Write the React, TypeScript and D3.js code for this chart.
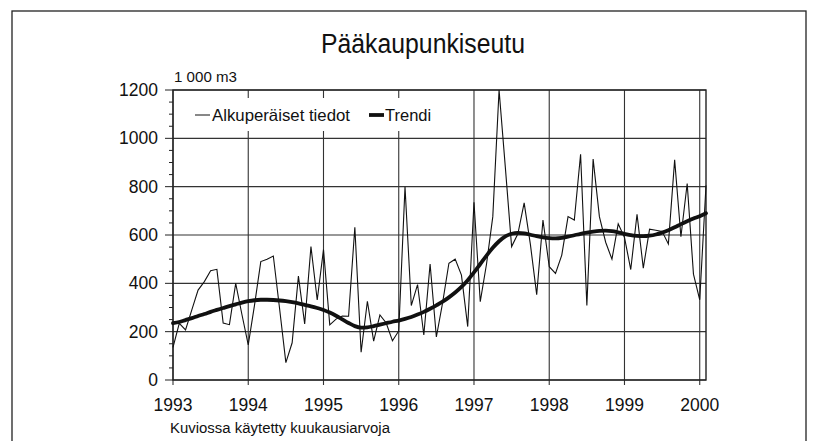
import React from 'react';
import * as d3 from 'd3';

// monthly values, Jan 1993 .. Feb 2000 (1 000 m3)
const raw: number[] = [
  135, 234, 207, 290, 372, 407, 452, 458, 236, 229, 400, 270,
  145, 310, 490, 500, 513, 295, 72, 154, 430, 232, 552, 331,
  540, 228, 252, 265, 264, 632, 115, 326, 161, 269, 236, 162,
  203, 800, 308, 395, 186, 480, 178, 320, 483, 500, 434, 221,
  735, 324, 480, 676, 1200, 880, 552, 605, 733, 560, 353, 662,
  469, 441, 517, 676, 662, 934, 308, 914, 676, 570, 500, 646,
  590, 457, 686, 463, 624, 620, 615, 563, 911, 593, 813, 438,
  332, 805,
];

const trend: number[] = [
  235, 240, 248, 256, 265, 273, 282, 290, 298, 306, 313, 320,
  326, 330, 332, 332, 331, 329, 326, 322, 317, 311, 305, 298,
  290, 279, 266, 251, 236, 223, 217, 218, 223, 229, 235, 241,
  246, 253, 261, 271, 282, 295, 309, 324, 342, 362, 385, 413,
  445, 480, 515, 547, 574, 594, 605, 609, 607, 601, 595, 590,
  587, 586, 588, 593, 599, 605, 610, 614, 617, 618, 616, 611,
  605, 599, 596, 595, 597, 602, 610, 620, 632, 645, 657, 668,
  678, 690,
];

const yearTicks = [1993, 1994, 1995, 1996, 1997, 1998, 1999, 2000];
const valueTicks = [0, 200, 400, 600, 800, 1000, 1200];
const minorTicks = d3.range(0, 1201, 50);

const title = 'Pääkaupunkiseutu';
const unitLabel = '1 000 m3';
const legendRaw = 'Alkuperäiset tiedot';
const legendTrend = 'Trendi';
const footnote = 'Kuviossa käytetty kuukausiarvoja';

const W = 815;
const H = 441;
const font = '"Liberation Sans", Arial, Helvetica, sans-serif';

export default function App() {
  const x = d3.scaleLinear().domain([1993, 2000 + 1 / 12]).range([173, 706]);
  const y = d3.scaleLinear().domain([0, 1200]).range([380, 90]);
  const t = (i: number) => 1993 + i / 12;

  const line = d3
    .line<number>()
    .x((_, i) => x(t(i)))
    .y(d => y(d));

  const trendLine = d3
    .line<number>()
    .x((_, i) => x(t(i)))
    .y(d => y(d))
    .curve(d3.curveMonotoneX);

  const [x0, x1] = x.range();
  const [yb, yt] = y.range();

  return (
    <svg
      width={W}
      height={H}
      style={{ position: 'absolute', left: 0, top: 0, background: '#fff' }}
      fontFamily={font}
    >
      <rect x={0} y={0} width={W} height={H} fill="#fff" />
      {/* outer frame */}
      <rect x={12} y={11} width={794} height={440} fill="none" stroke="#222" strokeWidth={1.3} />

      <text x={423} y={53} fontSize={27} textAnchor="middle" textLength={204} lengthAdjust="spacingAndGlyphs" fill="#111">
        {title}
      </text>
      <text x={174} y={82} fontSize={15} textLength={63} lengthAdjust="spacingAndGlyphs" fill="#111">{unitLabel}</text>

      {/* grid */}
      <g stroke="#333" strokeWidth={1.1}>
        {valueTicks.map(v => (
          <line key={'h' + v} x1={x0} x2={x1} y1={y(v)} y2={y(v)} />
        ))}
        {yearTicks.map(yr => (
          <line key={'v' + yr} x1={x(yr)} x2={x(yr)} y1={yt} y2={yb + 5} />
        ))}
      </g>

      {/* y ticks */}
      <g stroke="#222" strokeWidth={1}>
        {minorTicks.map(v => (
          <line key={'m' + v} x1={v % 200 === 0 ? x0 - 8 : x0 - 4} x2={x0} y1={y(v)} y2={y(v)} />
        ))}
      </g>

      {/* legend box */}
      <rect x={178} y={98} width={262} height={33} fill="#fff" />
      <line x1={195} x2={210} y1={115} y2={115} stroke="#111" strokeWidth={1} />
      <text x={212} y={121} fontSize={16.5} textLength={138} lengthAdjust="spacingAndGlyphs" fill="#111">{legendRaw}</text>
      <line x1={369} x2={384} y1={115} y2={115} stroke="#111" strokeWidth={3.8} />
      <text x={385} y={121} fontSize={16.5} fill="#111">{legendTrend}</text>

      {/* plot frame */}
      <rect x={x0} y={yt} width={x1 - x0} height={yb - yt} fill="none" stroke="#222" strokeWidth={1.4} />

      <path d={line(raw) ?? ''} fill="none" stroke="#111" strokeWidth={1.1} strokeLinejoin="miter" />
      <path d={trendLine(trend) ?? ''} fill="none" stroke="#111" strokeWidth={3.8} strokeLinecap="round" />

      {/* tick labels */}
      <g fontSize={17.5} fill="#111">
        {valueTicks.map(v => (
          <text key={'yl' + v} x={158} y={y(v) + 6} textAnchor="end">{v}</text>
        ))}
        {yearTicks.map(yr => (
          <text key={'xl' + yr} x={x(yr)} y={411} textAnchor="middle">{yr}</text>
        ))}
      </g>

      <text x={170} y={433} fontSize={15.5} textLength={220} lengthAdjust="spacingAndGlyphs" fill="#111">{footnote}</text>
    </svg>
  );
}
